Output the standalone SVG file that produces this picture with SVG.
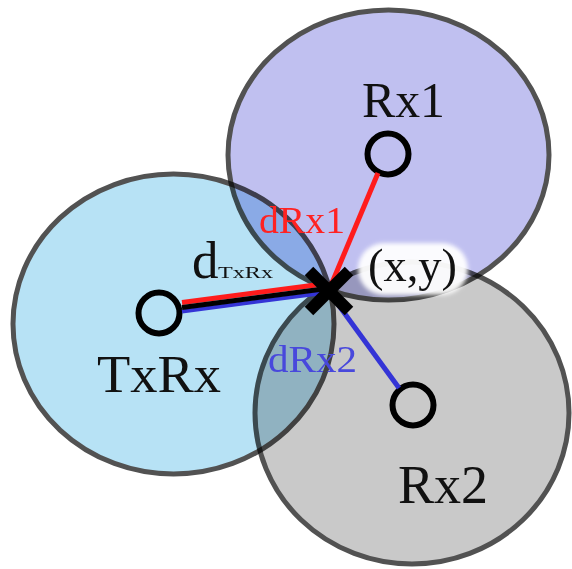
<svg xmlns="http://www.w3.org/2000/svg" width="572" height="569" viewBox="0 0 572 569">
  <defs>
    <style>
      .area { stroke: #525252; stroke-width: 5; mix-blend-mode: multiply; }
      .hole { fill: none; stroke: #000; stroke-width: 6; }
      .lbl { font-family: "Liberation Serif", "Times New Roman", serif; fill: #111; }
      .red { fill: #ff2222; }
      .blue { fill: #4848dc; }
    </style>
    <filter id="soft" x="-20%" y="-30%" width="140%" height="160%">
      <feGaussianBlur stdDeviation="2"/>
    </filter>
  </defs>
  <rect width="572" height="569" fill="#ffffff"/>

  <g id="node-Rx2">
    <ellipse class="area" cx="412" cy="413" rx="157" ry="151" fill="#c9c9c9"/>
    <circle class="hole" cx="413" cy="405" r="20.5"/>
    <text class="lbl" x="398" y="503" font-size="54" textLength="90" lengthAdjust="spacingAndGlyphs">Rx2</text>
  </g>

  <g id="node-Rx1">
    <ellipse class="area" cx="388.5" cy="155" rx="160.5" ry="145" fill="#c0c0f0"/>
    <circle class="hole" cx="388" cy="154" r="20.5"/>
    <text class="lbl" x="362" y="117" font-size="50" textLength="83" lengthAdjust="spacingAndGlyphs">Rx1</text>
  </g>

  <g id="node-TxRx">
    <ellipse class="area" cx="173.5" cy="324" rx="160.5" ry="150" fill="#b7e2f5"/>
    <circle class="hole" cx="159" cy="313" r="20.5"/>
    <text class="lbl" x="97" y="392" font-size="52" textLength="124" lengthAdjust="spacingAndGlyphs">TxRx</text>
  </g>

  <g id="connectors">
    <line x1="182" y1="302.5" x2="327" y2="283.5" stroke="#ff1c1c" stroke-width="5"/>
    <line x1="182" y1="311.5" x2="327" y2="292.5" stroke="#3434d6" stroke-width="4"/>
    <line x1="182" y1="307.5" x2="327" y2="288.5" stroke="#000" stroke-width="5"/>
    <line x1="329" y1="290" x2="378" y2="173" stroke="#ff1c1c" stroke-width="5"/>
    <line x1="329" y1="292" x2="399" y2="388" stroke="#3434d6" stroke-width="5"/>
    <text class="lbl red" x="259" y="233" font-size="37" textLength="86" lengthAdjust="spacingAndGlyphs">dRx1</text>
    <text class="lbl blue" x="268" y="372" font-size="37" textLength="89" lengthAdjust="spacingAndGlyphs">dRx2</text>
    <text class="lbl" x="192" y="278" font-size="53">d</text>
    <text class="lbl" x="218" y="278" font-size="17" textLength="55" lengthAdjust="spacingAndGlyphs">TxRx</text>
  </g>

  <g id="node-point">
    <rect x="358" y="243" width="110" height="52" rx="26" fill="#ffffff" opacity="0.95" filter="url(#soft)"/>
    <text class="lbl" x="368" y="281" font-size="46" textLength="89" lengthAdjust="spacingAndGlyphs">(x,y)</text>
    <line x1="309" y1="271" x2="349" y2="311" stroke="#000" stroke-width="12"/>
    <line x1="349" y1="271" x2="309" y2="311" stroke="#000" stroke-width="12"/>
  </g>
</svg>
